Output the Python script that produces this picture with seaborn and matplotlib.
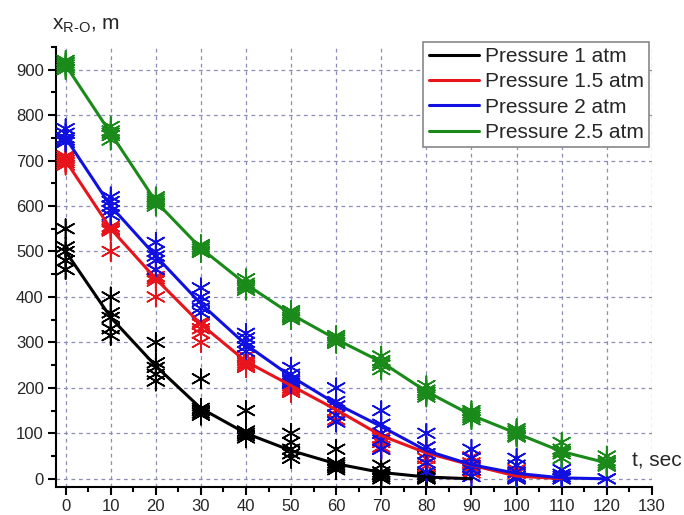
import matplotlib
matplotlib.use('Agg')
import matplotlib.pyplot as plt
import pandas as pd
import seaborn as sns
from matplotlib.ticker import MultipleLocator

# time points (sec)
t = [0, 10, 20, 30, 40, 50, 60, 70, 80, 90, 100, 110, 120]

labels = ['Pressure 1 atm', 'Pressure 1.5 atm', 'Pressure 2 atm', 'Pressure 2.5 atm']
colors = ['#000000', '#e8141c', '#1010e0', '#1a8a1a']

# measured points, one list per time point
pts_1 = [[550, 510, 500, 480, 460], [400, 365, 355, 330, 315], [300, 255, 245, 230, 215],
         [220, 155, 150, 145, 140], [150, 105, 100, 95, 90], [100, 80, 65, 55, 45],
         [65, 35, 30, 25, 20], [30, 15, 10, 5, 0], [10, 5, 2, 0, 0]]
pts_15 = [[710, 705, 700, 695, 690], [555, 550, 548, 545, 500], [460, 445, 440, 435, 400],
          [345, 340, 330, 320, 300], [270, 260, 255, 250, 245], [215, 205, 200, 195, 190],
          [160, 150, 140, 130, 125], [100, 90, 80, 70, 65], [70, 55, 45, 35, 28],
          [48, 35, 25, 18, 13], [20, 12, 5, 2, 0]]
pts_2 = [[770, 760, 750, 745, 740], [620, 610, 600, 590, 580], [520, 500, 490, 480, 460],
         [420, 400, 390, 375, 365], [320, 310, 300, 290, 280], [245, 230, 220, 215, 210],
         [200, 170, 160, 140, 125], [150, 120, 100, 85, 65], [100, 70, 55, 35, 15],
         [65, 45, 30, 20, 5], [45, 30, 15, 5, 0], [20, 10, 5, 0, 0], [0, 0]]
pts_25 = [[920, 915, 910, 905, 900], [775, 765, 760, 755, 745], [620, 615, 610, 605, 600],
          [515, 510, 505, 500, 498], [440, 430, 425, 420, 415], [370, 365, 360, 355, 350],
          [315, 310, 305, 300, 298], [270, 260, 255, 250, 240], [205, 195, 190, 185, 180],
          [150, 145, 140, 135, 130], [110, 105, 100, 95, 92], [80, 65, 60, 55, 45],
          [50, 40, 35, 30, 28]]

# fitted curves
fit_1 = [500, 355, 248, 155, 100, 62, 33, 14, 4, 0]
fit_15 = [700, 550, 440, 340, 258, 205, 152, 95, 57, 30, 6, 0]
fit_2 = [750, 600, 490, 385, 295, 225, 165, 115, 62, 31, 12, 2, 0]
fit_25 = [910, 760, 610, 507, 428, 362, 307, 257, 192, 140, 100, 60, 35]

all_pts = [pts_1, pts_15, pts_2, pts_25]
all_fit = [fit_1, fit_15, fit_2, fit_25]

rows = []
for lab, pts in zip(labels, all_pts):
    for ti, vals in zip(t, pts):
        for v in vals:
            rows.append({'t': ti, 'x': v, 'p': lab})
df_pts = pd.DataFrame(rows)

rows = []
for lab, fit in zip(labels, all_fit):
    for ti, v in zip(t, fit):
        rows.append({'t': ti, 'x': v, 'p': lab})
df_fit = pd.DataFrame(rows)

sns.set_style('ticks')
plt.rcParams['font.family'] = ['Liberation Sans', 'DejaVu Sans']
plt.rcParams['mathtext.fontset'] = 'custom'
plt.rcParams['mathtext.rm'] = 'Liberation Sans'

fig = plt.figure(figsize=(6.84, 5.15), dpi=100)
ax = fig.add_axes([0.0814, 0.0544, 0.8716, 0.8546])

palette = dict(zip(labels, colors))
sns.scatterplot(data=df_pts, x='t', y='x', hue='p', palette=palette, marker=(6, 2, 0),
                s=190, linewidth=1.2, legend=False, ax=ax, zorder=3)
sns.lineplot(data=df_fit, x='t', y='x', hue='p', palette=palette, linewidth=2.2,
             ax=ax, zorder=4)

ax.set_xlim(-2.2, 130)
ax.set_ylim(-18, 950)
ax.xaxis.set_minor_locator(MultipleLocator(5))
ax.yaxis.set_minor_locator(MultipleLocator(50))
ax.set_xticks(range(0, 131, 10))
ax.set_yticks(range(0, 901, 100))
ax.tick_params(which='major', direction='out', length=6, width=1.5, pad=2.5,
               labelsize=12, color='black')
ax.tick_params(which='minor', direction='out', length=3.5, width=1.5, color='black')
ax.grid(True, which='major', linestyle=(0, (3, 3)), color='#8c8cb8', linewidth=0.9)
ax.set_axisbelow(True)
for s in ['top', 'right']:
    ax.spines[s].set_visible(False)
for s in ['left', 'bottom']:
    ax.spines[s].set_linewidth(1.5)
    ax.spines[s].set_color('black')
ax.set_xlabel('')
ax.set_ylabel('')

leg = ax.legend(loc='upper right', bbox_to_anchor=(649 / 684, 1 - 42 / 515),
                bbox_transform=fig.transFigure, borderaxespad=0, fontsize=15,
                fancybox=False, framealpha=1, edgecolor='#888888', handlelength=2.4,
                handletextpad=0.3, labelspacing=0.3, borderpad=0.25)
leg.get_frame().set_linewidth(1.2)

fig.text(52 / 684, 1 - 29 / 515, r'x$_{\mathrm{R\text{-}O}}$, m', fontsize=15, va='baseline')
fig.text(632 / 684, 1 - 461 / 515, 't, sec', fontsize=15, va='center')

fig.savefig('out.png', dpi=100)
